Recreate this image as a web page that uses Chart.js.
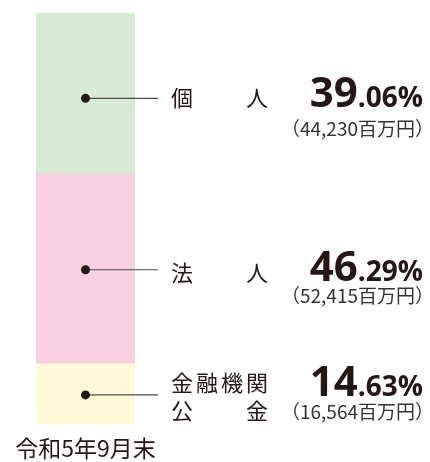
<!DOCTYPE html>
<html lang="ja">
<head>
<meta charset="utf-8">
<title>預金者別構成比</title>
<script src="https://cdn.jsdelivr.net/npm/chart.js@4/dist/chart.umd.min.js"></script>
<style>
  html, body { margin: 0; padding: 0; background: #fff; }
  #wrap { width: 430px; height: 462px; }
</style>
</head>
<body>
<div id="wrap"><canvas id="depositChart" width="430" height="462"></canvas></div>
<script>
// データ（上から順に）
const periodLabels = ['令和5年9月末'];
const segmentNames = ['個人', '法人', '金融機関公金'];
const labelLines = [['個人'], ['法人'], ['金融機関', '公金']];
const sharePercent = [39.06, 46.29, 14.63];
const amountMillionYen = [44230, 52415, 16564];

const segmentColors = ['#d6ead6', '#f7d0e2', '#fefad7'];
const inkColor = '#231815';
const jpFont = '"Noto Sans CJK JP", "Noto Sans", sans-serif';
const numFont = '"Open Sans", "Noto Sans CJK JP", sans-serif';

// 行ごとの微調整（点・ラベルの縦位置）
const rowOffsets = [
    { dot: 5, label: 4, pct: 14, sub: 43 },
    { dot: 1, label: 4, pct: 12, sub: 34 },
    { dot: 1, label: -11, pct: 2, sub: 25 }
];

const calloutPlugin = {
    id: 'callouts',
    afterDatasetsDraw(chart) {
        const ctx = chart.ctx;
        const n = segmentNames.length;
        ctx.save();
        for (let i = 0; i < n; i++) {
            // データセットは下から積むので逆順
            const meta = chart.getDatasetMeta(n - 1 - i);
            const bar = meta.data[0];
            const centerY = (bar.y + bar.base) / 2;
            const off = rowOffsets[i];
            const dotY = centerY + off.dot;

            // 引き出し線と点
            ctx.strokeStyle = '#4a4a4a';
            ctx.lineWidth = 1.2;
            ctx.beginPath();
            ctx.moveTo(bar.x, dotY);
            ctx.lineTo(158, dotY);
            ctx.stroke();
            ctx.fillStyle = inkColor;
            ctx.beginPath();
            ctx.arc(bar.x, dotY, 4.5, 0, Math.PI * 2);
            ctx.fill();

            // 区分名（均等割付）
            ctx.font = '22px ' + jpFont;
            ctx.textBaseline = 'middle';
            ctx.textAlign = 'left';
            const boxL = 171, boxR = 268;
            labelLines[i].forEach((line, j) => {
                const y = centerY + off.label + j * 28;
                const chars = Array.from(line);
                const widths = chars.map(c => ctx.measureText(c).width);
                const total = widths.reduce((a, b) => a + b, 0);
                const gap = chars.length > 1 ? (boxR - boxL - total) / (chars.length - 1) : 0;
                let x = boxL;
                chars.forEach((c, k) => {
                    ctx.fillText(c, x, y);
                    x += widths[k] + gap;
                });
            });

            // 構成比
            const parts = sharePercent[i].toFixed(2).split('.');
            const pctY = centerY + off.pct;
            ctx.textBaseline = 'alphabetic';
            ctx.textAlign = 'right';
            ctx.font = 'bold 28px ' + numFont;
            const small = '.' + parts[1] + '%';
            const smallW = ctx.measureText(small).width;
            ctx.fillText(small, 423, pctY);
            ctx.font = 'bold 42px ' + numFont;
            ctx.fillText(parts[0], 423 - smallW, pctY);

            // 金額
            ctx.font = '19px ' + jpFont;
            ctx.fillStyle = '#333';
            ctx.fillText('（' + amountMillionYen[i].toLocaleString('en-US') + '百万円）', 434, centerY + off.sub);
        }
        ctx.restore();
    }
};

const datasets = segmentNames.map((name, i) => ({
    label: name,
    data: [sharePercent[i]],
    backgroundColor: segmentColors[i],
    borderWidth: 0
})).reverse();

const chart = new Chart(document.getElementById('depositChart').getContext('2d'), {
    type: 'bar',
    data: { labels: periodLabels, datasets: datasets },
    options: {
        responsive: false,
        animation: false,
        layout: { padding: { left: 36, right: 295, top: 13, bottom: 0 } },
        datasets: { bar: { barPercentage: 1, categoryPercentage: 1 } },
        plugins: { legend: { display: false }, tooltip: { enabled: false } },
        scales: {
            x: {
                stacked: true,
                grid: { display: false, drawTicks: false },
                border: { display: false },
                ticks: { color: inkColor, padding: 10, font: { size: 23, family: jpFont } },
                afterFit(scale) {
                    scale.paddingLeft = 0;
                    scale.paddingRight = 0;
                    scale.height = 38;
                }
            },
            y: { stacked: true, display: false, min: 0, max: 100 }
        }
    },
    plugins: [calloutPlugin]
});
</script>
</body>
</html>
